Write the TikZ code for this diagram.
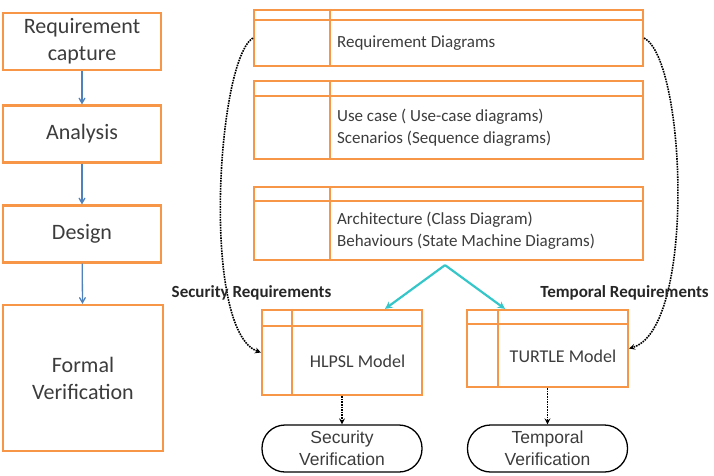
\documentclass[tikz,border=0pt]{standalone}
\usepackage{fontspec}
\setmainfont{Carlito}
\newfontfamily\arialfont{Liberation Sans}
\usetikzlibrary{arrows, calc}
\definecolor{boxorange}{RGB}{247,150,70}
\definecolor{flowblue}{RGB}{79,129,189}
\definecolor{linkcyan}{RGB}{52,198,200}
\definecolor{txtgray}{RGB}{60,60,60}
\tikzstyle{stage} = [rectangle, minimum width=158pt, minimum height=57pt, inner sep=0pt, text centered, align=center, draw=boxorange, line width=2.2pt, text=txtgray, font=\fontsize{22}{27}\selectfont]
\tikzstyle{diagram} = [rectangle, inner sep=0pt, draw=boxorange, line width=2.2pt]
\tikzstyle{cell} = [draw=boxorange, line width=2.2pt]
\tikzstyle{celltext} = [anchor=west, align=left, inner sep=0pt, text=txtgray, font=\fontsize{17}{22}\selectfont]
\tikzstyle{modeltext} = [inner sep=0pt, text=txtgray, font=\fontsize{18}{22}\selectfont]
\tikzstyle{verif} = [rectangle, rounded corners=23pt, minimum width=160pt, minimum height=47pt, inner sep=0pt, align=center, draw=black, line width=1.3pt, text=txtgray, font=\arialfont\fontsize{17.5}{22}\selectfont]
\tikzstyle{reqlabel} = [inner sep=0pt, text=black!85, font=\bfseries\fontsize{17}{20}\selectfont]
\tikzstyle{arrow} = [draw=flowblue, line width=1.3pt, ->, >=angle 60]
\tikzstyle{dotarrow} = [densely dotted, line width=1.6pt, ->, >=stealth]
\tikzstyle{linkarrow} = [draw=linkcyan, line width=2.2pt, ->, >=stealth]

\begin{document}
\begin{tikzpicture}[x=1pt, y=-1pt, node distance=92.5pt]
    \useasboundingbox (0,0) rectangle (714,475);

    % development steps
    \node (req_capture) [stage] at (82,41.5) {Requirement\\capture};
    \node (analysis) [stage, below of=req_capture] {Analysis};
    \node (design) [stage, below of=analysis, yshift=-7.5pt] {Design};
    \node (formal_ver) [stage, below of=design, xshift=1pt, yshift=-51.5pt, minimum width=160pt, minimum height=146pt] {Formal\\Verification};

    \draw [arrow] (req_capture) -- (analysis);
    \draw [arrow] (analysis) -- (design);
    \draw [arrow] (design) -- (formal_ver);

    % SysML diagrams
    \node (req_diag) [diagram, minimum width=389pt, minimum height=56pt] at (448.5,38) {};
    \node (use_case) [diagram, minimum width=389pt, minimum height=78pt] at (448.5,120) {};
    \node (arch) [diagram, minimum width=389pt, minimum height=73pt] at (448.5,223.5) {};

    \draw [cell] ($(req_diag.north west)+(0,11)$) -- ($(req_diag.north east)+(0,11)$);
    \draw [cell] ($(req_diag.north west)+(77,0)$) -- ($(req_diag.south west)+(77,0)$);
    \draw [cell] ($(use_case.north west)+(0,16)$) -- ($(use_case.north east)+(0,16)$);
    \draw [cell] ($(use_case.north west)+(77,0)$) -- ($(use_case.south west)+(77,0)$);
    \draw [cell] ($(arch.north west)+(0,15)$) -- ($(arch.north east)+(0,15)$);
    \draw [cell] ($(arch.north west)+(77,0)$) -- ($(arch.south west)+(77,0)$);

    \node (req_diag_txt) [celltext] at ($(req_diag.west)+(84,5.5)$) {Requirement Diagrams};
    \node (use_case_txt) [celltext] at ($(use_case.west)+(84,8)$) {Use case ( Use-case diagrams)\\Scenarios (Sequence diagrams)};
    \node (arch_txt) [celltext] at ($(arch.west)+(84,7.5)$) {Architecture (Class Diagram)\\Behaviours (State Machine Diagrams)};

    % models
    \node (hlpsl) [diagram, minimum width=160pt, minimum height=85pt] at (342,352.5) {};
    \node (turtle) [diagram, minimum width=161pt, minimum height=77pt] at (547.5,348.5) {};

    \draw [cell] ($(hlpsl.north west)+(0,17)$) -- ($(hlpsl.north east)+(0,17)$);
    \draw [cell] ($(hlpsl.north west)+(31,0)$) -- ($(hlpsl.south west)+(31,0)$);
    \draw [cell] ($(turtle.north west)+(0,15)$) -- ($(turtle.north east)+(0,15)$);
    \draw [cell] ($(turtle.north west)+(32,0)$) -- ($(turtle.south west)+(32,0)$);

    \node (hlpsl_txt) [modeltext] at ($(hlpsl.center)+(15.5,8.5)$) {HLPSL Model};
    \node (turtle_txt) [modeltext] at ($(turtle.center)+(15.5,7.5)$) {TURTLE Model};

    \coordinate (split) at ($(arch.south)+(-3.5,4)$);
    \draw [linkarrow] (split) -- ($(hlpsl.north)+(43,0)$);
    \draw [linkarrow] (split) -- ($(turtle.north)+(-42.5,0)$);

    % verification
    \node (sec_ver) [verif] at (342,448.5) {Security\\Verification};
    \node (temp_ver) [verif] at (547.5,448.5) {Temporal\\Verification};

    \draw [dotarrow] (hlpsl) -- (sec_ver);
    \draw [dotarrow] (turtle) -- (temp_ver);

    \draw [dotarrow] (req_diag.west) .. controls +(-36,22) and +(-60,-22) .. (hlpsl.west);
    \draw [dotarrow] (req_diag.east) .. controls +(42,22) and +(67,-20) .. (turtle.east);

    \node (sec_req) [reqlabel] at (251.5,293) {Security Requirements};
    \node (temp_req) [reqlabel] at (624.5,293) {Temporal Requirements};

\end{tikzpicture}
\end{document}
